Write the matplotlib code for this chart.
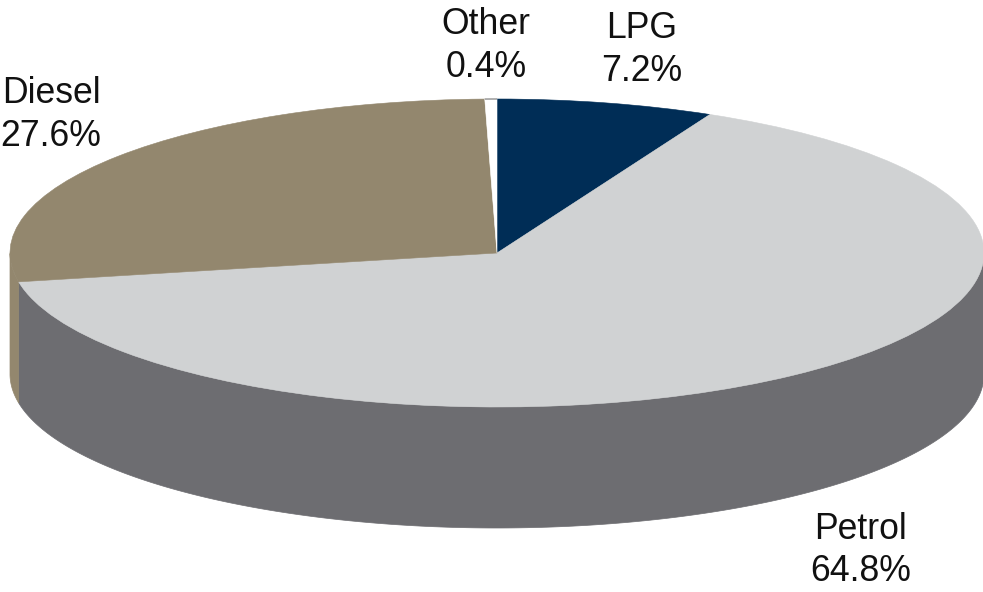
import numpy as np
import matplotlib
matplotlib.use("Agg")
import matplotlib.pyplot as plt
from matplotlib.patches import Polygon

categories = ["LPG", "Petrol", "Diesel", "Other"]
shares = [7.2, 64.8, 27.6, 0.4]
colors = ["#002d56", "#d0d2d3", "#93876e", "#ffffff"]
side_colors = ["#002d56", "#6d6d71", "#93876e", "#ffffff"]

W, H = 983, 592
CX, CY, RX, RY, DEPTH = 497, 253, 487, 154, 121

plt.rcParams["font.family"] = ["Liberation Sans", "DejaVu Sans"]
fig = plt.figure(figsize=(W / 100, H / 100), dpi=100)
ax = fig.add_axes([0, 0, 1, 1])

# depth as a fraction of the radius
d = DEPTH / RY

# side wall, drawn from the same shares as the top
edges = 90 - np.cumsum([0] + shares) * 3.6
for i in range(len(shares)):
    th = np.radians(np.linspace(edges[i], edges[i + 1], 300))
    th = th[np.sin(th) <= 0]
    if th.size < 2:
        continue
    x, y = np.cos(th), np.sin(th)
    pts = np.vstack([np.c_[x, y], np.c_[x[::-1], y[::-1] - d]])
    ax.add_patch(Polygon(pts, closed=True, fc=side_colors[i], ec=side_colors[i], lw=0.5))

wedges, _ = ax.pie(shares, colors=colors, startangle=90, counterclock=False, radius=1,
                   wedgeprops=dict(linewidth=0.4, edgecolor="none"))
for w, c in zip(wedges, colors):
    w.set_edgecolor(c)
    w.set_antialiased(True)

# thin grey rim on the white "Other" slice
th = np.radians(np.linspace(edges[3], edges[4], 20))
ax.plot(np.cos(th), np.sin(th), color="#8f8f8f", lw=1.0, solid_capstyle="butt")

ax.set_aspect("auto")
ax.set_xlim(-CX / RX, (W - CX) / RX)
ax.set_ylim((CY - H) / RY, CY / RY)
ax.axis("off")

# pixel centres of the label blocks
label_px = {"LPG": (642, 50), "Petrol": (860.5, 550.5), "Diesel": (51, 115), "Other": (486, 46)}
for name, val in zip(categories, shares):
    px, py = label_px[name]
    fig.text(px / W, 1 - py / H, f"{name}\n{val:.1f}%", ha="center", va="center",
             fontsize=25.7, color="#111111", linespacing=1.28)

fig.savefig("out.png", dpi=100, facecolor="white")
